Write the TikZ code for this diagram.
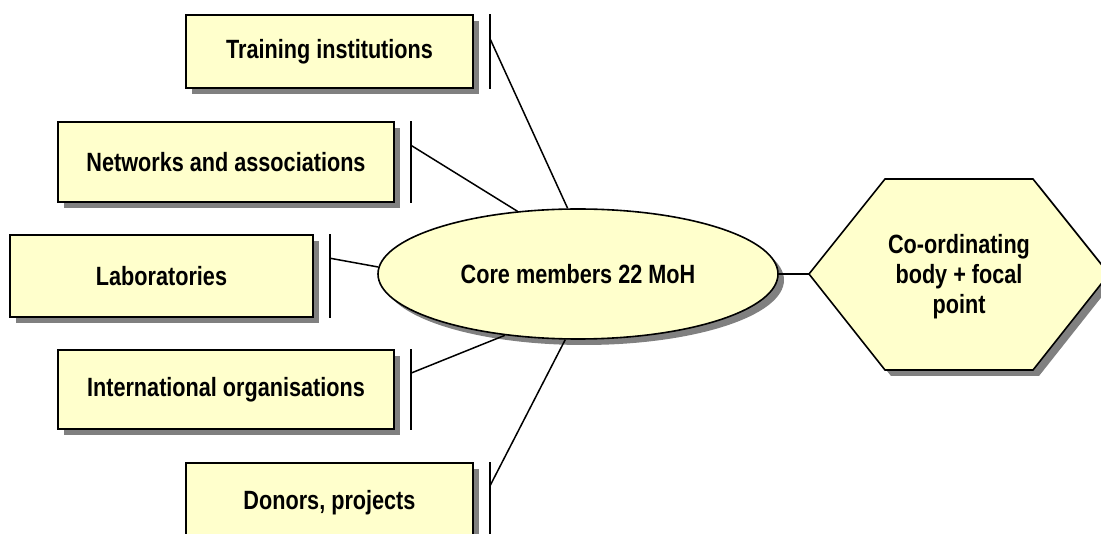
\documentclass[tikz,border=0pt]{standalone}
\usepackage{fontspec}
\setmainfont{Liberation Sans}[FakeStretch=0.82]
\usetikzlibrary{shapes.geometric,shadows,calc}
\definecolor{boxfill}{HTML}{FFFFCC}
\definecolor{shadowgray}{HTML}{808080}
\begin{document}
\begin{tikzpicture}[x=1pt,y=-1pt,
  shad/.style={general shadow={fill=shadowgray,shadow xshift=6pt,shadow yshift=-6pt}},
  txt/.style={font=\fontsize{26.4}{30}\selectfont\bfseries,align=center},
  itembox/.style={draw=black,line width=1.6pt,fill=boxfill,shad,inner sep=0pt,txt},
  barline/.style={line width=1.5pt},
  link/.style={line width=1.5pt}]
\useasboundingbox (0,0) rectangle (1101,534);
\clip (0,0) rectangle (1101,534);
% boxes
\node[itembox,minimum width=287pt,minimum height=73pt] (train) at (329.5,51.5) {Training institutions};
\node[itembox,minimum width=336pt,minimum height=80pt] (netw) at (226,162) {Networks and associations};
\node[itembox,minimum width=303pt,minimum height=82pt] (lab) at (161.5,276) {Laboratories};
\node[itembox,minimum width=336pt,minimum height=79pt] (intl) at (226,389.5) {International organisations};
\node[itembox,minimum width=287pt,minimum height=80pt] (donor) at (329.5,503) {Donors, projects};
% core ellipse
\node[ellipse,draw=black,line width=1.6pt,fill=boxfill,shad,inner sep=0pt,
      minimum width=400pt,minimum height=130pt,txt] (core) at (578,274) {Core members 22 MoH};
% hexagon
\coordinate (hexL) at (809,274);
\path[draw=black,line width=1.6pt,fill=boxfill,shad]
  (hexL) -- (885,179) -- (1033,179) -- (1109,274) -- (1033,370) -- (885,370) -- cycle;
\node[txt] (coord) at (959,277) {Co-ordinating\\body + focal\\point};
% bars and connectors
\foreach \b/\ang in {train/99.6, netw/134, lab/178.5, intl/220, donor/259}{
  \coordinate (\b T) at ($(\b.north east)+(16,0)$);
  \coordinate (\b B) at ($(\b.south east)+(16,0)$);
  \coordinate (\b J) at ($(\b.north east)+(16,24)$);
  \draw[barline] (\b T) -- (\b B);
  \draw[link] (\b J) -- (core.\ang);
}
\draw[link] (core.east) -- (hexL);
\end{tikzpicture}
\end{document}
